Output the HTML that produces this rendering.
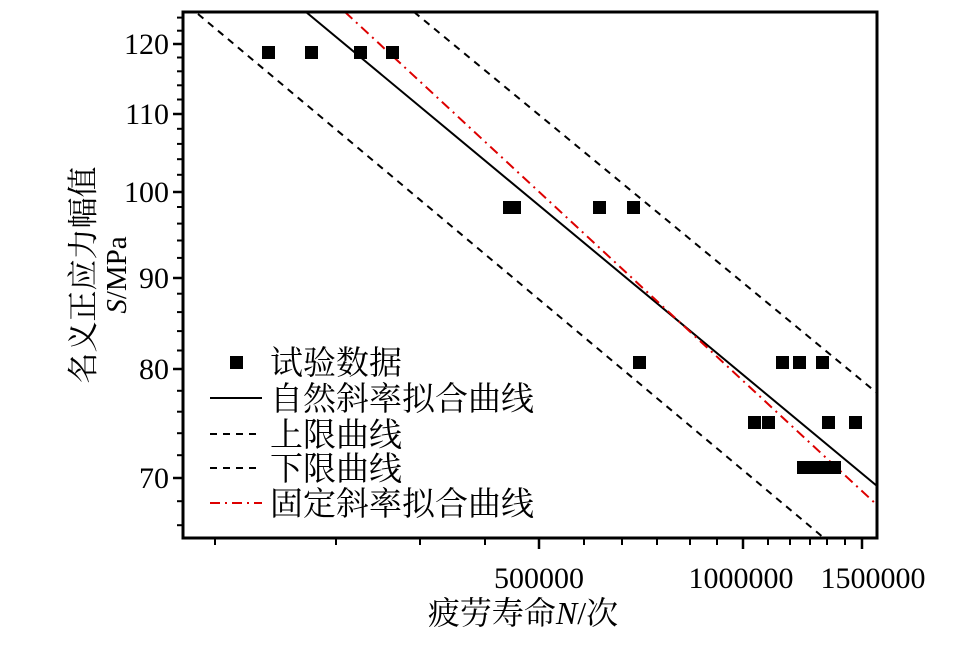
<!DOCTYPE html>
<html><head><meta charset="utf-8"><style>
html,body{margin:0;padding:0;background:#fff;}
svg{display:block;}
text{font-family:"Liberation Serif","Noto Serif CJK SC","Noto Sans CJK SC",serif;fill:#000;}
</style></head><body>
<svg width="980" height="648" viewBox="0 0 980 648" xmlns="http://www.w3.org/2000/svg">
<g stroke="#000" stroke-width="2.5">
<line x1="173" y1="44" x2="183" y2="44"/>
<line x1="173" y1="114" x2="183" y2="114"/>
<line x1="173" y1="192" x2="183" y2="192"/>
<line x1="173" y1="278" x2="183" y2="278"/>
<line x1="173" y1="369" x2="183" y2="369"/>
<line x1="173" y1="478" x2="183" y2="478"/>
<line x1="539" y1="538" x2="539" y2="549"/>
<line x1="743" y1="538" x2="743" y2="549"/>
<line x1="862" y1="538" x2="862" y2="549"/>
</g>
<g stroke="#000" stroke-width="2">
<line x1="177" y1="525.2" x2="183" y2="525.2"/><line x1="177" y1="501.2" x2="183" y2="501.2"/>
<line x1="177" y1="455.2" x2="183" y2="455.2"/><line x1="177" y1="433.2" x2="183" y2="433.2"/>
<line x1="177" y1="411.7" x2="183" y2="411.7"/><line x1="177" y1="390.8" x2="183" y2="390.8"/>
<line x1="177" y1="350.5" x2="183" y2="350.5"/><line x1="177" y1="331.1" x2="183" y2="331.1"/>
<line x1="177" y1="312.1" x2="183" y2="312.1"/><line x1="177" y1="293.7" x2="183" y2="293.7"/>
<line x1="177" y1="257.9" x2="183" y2="257.9"/><line x1="177" y1="240.5" x2="183" y2="240.5"/>
<line x1="177" y1="223.6" x2="183" y2="223.6"/><line x1="177" y1="207" x2="183" y2="207"/>
<line x1="177" y1="174.8" x2="183" y2="174.8"/><line x1="177" y1="159.2" x2="183" y2="159.2"/>
<line x1="177" y1="143.9" x2="183" y2="143.9"/><line x1="177" y1="128.8" x2="183" y2="128.8"/>
<line x1="177" y1="99.5" x2="183" y2="99.5"/><line x1="177" y1="85.3" x2="183" y2="85.3"/>
<line x1="177" y1="71.3" x2="183" y2="71.3"/><line x1="177" y1="57.5" x2="183" y2="57.5"/>
<line x1="177" y1="30.7" x2="183" y2="30.7"/><line x1="177" y1="17.6" x2="183" y2="17.6"/>
<line x1="215" y1="538" x2="215" y2="545"/><line x1="336" y1="538" x2="336" y2="545"/>
<line x1="420" y1="538" x2="420" y2="545"/><line x1="485" y1="538" x2="485" y2="545"/>
<line x1="584" y1="538" x2="584" y2="545"/><line x1="622" y1="538" x2="622" y2="545"/>
<line x1="657" y1="538" x2="657" y2="545"/><line x1="690" y1="538" x2="690" y2="545"/>
<line x1="717" y1="538" x2="717" y2="545"/><line x1="768" y1="538" x2="768" y2="545"/>
<line x1="790" y1="538" x2="790" y2="545"/><line x1="810" y1="538" x2="810" y2="545"/>
<line x1="827" y1="538" x2="827" y2="545"/><line x1="845" y1="538" x2="845" y2="545"/>
</g>
<line x1="306" y1="12" x2="877" y2="486" stroke="#000" stroke-width="2"/>
<line x1="345" y1="12" x2="877" y2="505" stroke="#d00" stroke-width="2" stroke-dasharray="10,5,2,5"/>
<line x1="414" y1="12" x2="877" y2="393" stroke="#000" stroke-width="2" stroke-dasharray="7,6"/>
<line x1="198" y1="14" x2="824" y2="538" stroke="#000" stroke-width="2" stroke-dasharray="7,6"/>
<g fill="#000">
<rect x="262" y="46" width="13" height="13"/><rect x="305" y="46" width="13" height="13"/><rect x="354" y="46" width="13" height="13"/><rect x="386" y="46" width="13" height="13"/>
<rect x="503" y="201" width="13" height="13"/><rect x="508" y="201" width="13" height="13"/><rect x="593" y="201" width="13" height="13"/><rect x="627" y="201" width="13" height="13"/>
<rect x="633" y="356" width="13" height="13"/><rect x="776" y="356" width="13" height="13"/><rect x="793" y="356" width="13" height="13"/><rect x="816" y="356" width="13" height="13"/>
<rect x="748" y="416" width="13" height="13"/><rect x="762" y="416" width="13" height="13"/><rect x="822" y="416" width="13" height="13"/><rect x="849" y="416" width="13" height="13"/>
<rect x="797" y="461" width="44" height="13"/>
</g>
<rect x="183" y="12" width="694" height="526" fill="none" stroke="#000" stroke-width="3"/>
<g font-size="30" text-anchor="end">
<text x="169" y="54">120</text><text x="169" y="124">110</text><text x="169" y="202">100</text>
<text x="169" y="288">90</text><text x="169" y="379">80</text><text x="169" y="488">70</text>
</g>
<g font-size="30" text-anchor="middle">
<text x="539" y="588">500000</text><text x="741" y="588">1000000</text><text x="873" y="588">1500000</text>
</g>
<text x="523" y="624" font-size="32" text-anchor="middle">疲劳寿命<tspan font-style="italic">N</tspan>/次</text>
<text transform="translate(94,275) rotate(-90)" font-size="31" text-anchor="middle">名义正应力幅值</text>
<text transform="translate(126,275) rotate(-90)" font-size="29" text-anchor="middle"><tspan font-style="italic">S</tspan>/MPa</text>
<rect x="230" y="356" width="13" height="13" fill="#000"/>
<line x1="210" y1="398" x2="262" y2="398" stroke="#000" stroke-width="2"/>
<line x1="210" y1="434" x2="262" y2="434" stroke="#000" stroke-width="2" stroke-dasharray="7,6"/>
<line x1="210" y1="468" x2="262" y2="468" stroke="#000" stroke-width="2" stroke-dasharray="7,6"/>
<line x1="210" y1="503" x2="262" y2="503" stroke="#d00" stroke-width="2" stroke-dasharray="10,5,2,5"/>
<g font-size="33">
<text x="270" y="374">试验数据</text>
<text x="270" y="410">自然斜率拟合曲线</text>
<text x="270" y="446">上限曲线</text>
<text x="270" y="480">下限曲线</text>
<text x="270" y="515">固定斜率拟合曲线</text>
</g>
</svg>
</body></html>
